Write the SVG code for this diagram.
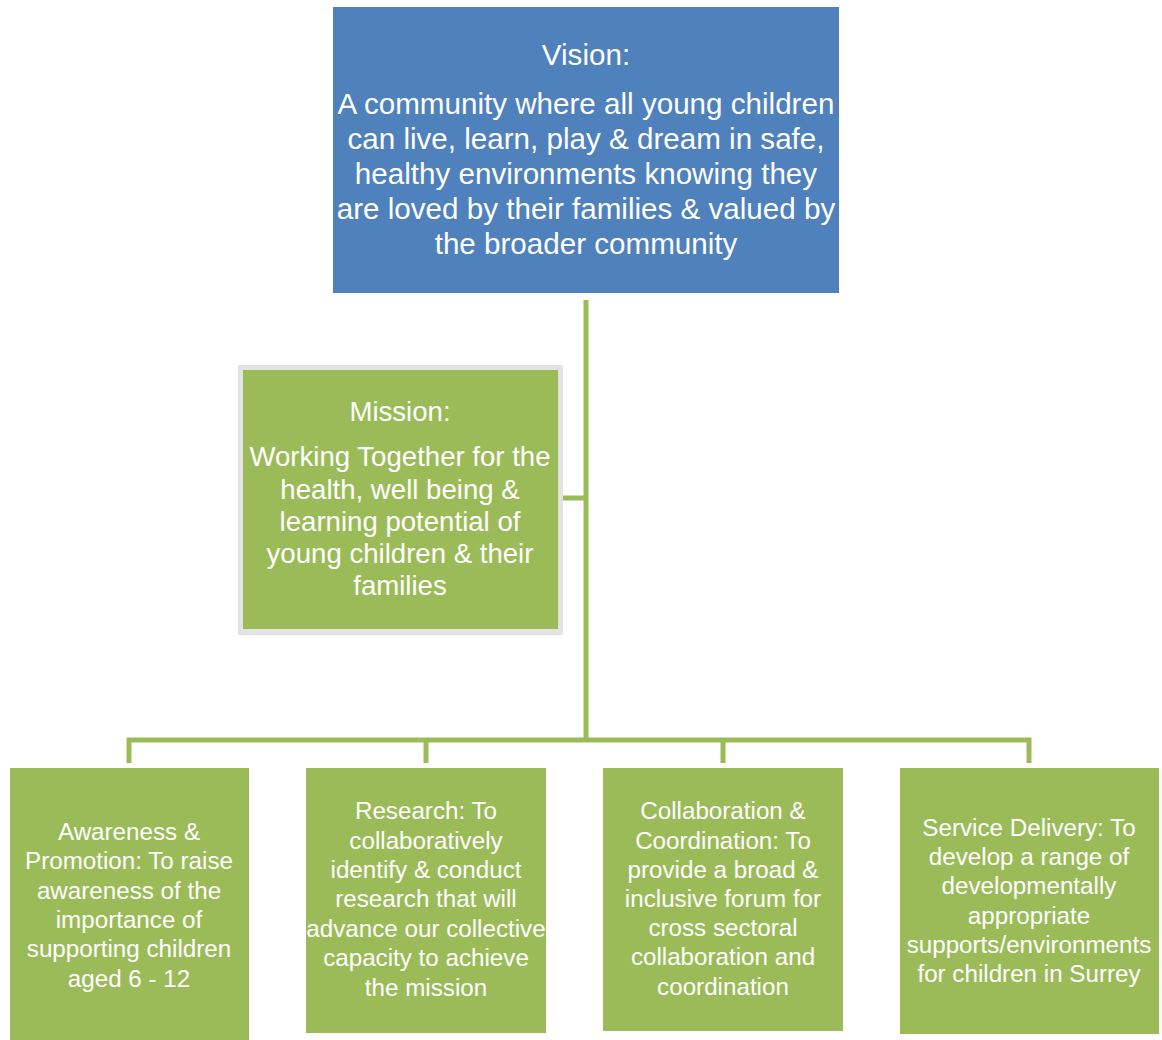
<svg xmlns="http://www.w3.org/2000/svg" width="1162" height="1040" viewBox="0 0 1162 1040">
<style>
  text { font-family: "Liberation Sans", Arial, sans-serif; fill: #ffffff; text-anchor: middle; }
  .vis { font-size: 29.6px; }
  .mis { font-size: 27.6px; }
  .bot { font-size: 24.2px; }
  .green { fill: #9BBB59; }
  .conn { stroke: #9BBB59; stroke-width: 5; fill: none; }
</style>
<rect width="1162" height="1040" fill="#ffffff"/>
<g id="connectors">
  <path class="conn" d="M586 300 V740"/>
  <path class="conn" d="M563 498 H586"/>
  <path class="conn" d="M129 763 V740 H1029 V763"/>
  <path class="conn" d="M426 740 V763"/>
  <path class="conn" d="M723 740 V763"/>
</g>
<g id="vision">
  <rect x="333" y="7" width="506" height="286" fill="#4F81BD"/>
  <text class="vis" x="586" y="65">Vision:</text>
  <text class="vis" x="586" y="114">A community where all young children</text>
  <text class="vis" x="586" y="149">can live, learn, play &amp; dream in safe,</text>
  <text class="vis" x="586" y="184">healthy environments knowing they</text>
  <text class="vis" x="586" y="219">are loved by their families &amp; valued by</text>
  <text class="vis" x="586" y="254">the broader community</text>
</g>
<g id="mission">
  <rect x="238" y="365" width="325" height="270" fill="#E3E3E3"/>
  <rect x="243" y="370" width="315" height="259" class="green"/>
  <text class="mis" x="400" y="421">Mission:</text>
  <text class="mis" x="400" y="466">Working Together for the</text>
  <text class="mis" x="400" y="499">health, well being &amp;</text>
  <text class="mis" x="400" y="531">learning potential of</text>
  <text class="mis" x="400" y="563">young children &amp; their</text>
  <text class="mis" x="400" y="595">families</text>
</g>
<g id="awareness">
  <rect x="10" y="768" width="239" height="280" class="green"/>
  <text class="bot" x="129" y="840">Awareness &amp;</text>
  <text class="bot" x="129" y="869">Promotion: To raise</text>
  <text class="bot" x="129" y="899">awareness of the</text>
  <text class="bot" x="129" y="928">importance of</text>
  <text class="bot" x="129" y="957">supporting children</text>
  <text class="bot" x="129" y="987">aged 6 - 12</text>
</g>
<g id="research">
  <rect x="306" y="768" width="240" height="265" class="green"/>
  <text class="bot" x="426" y="819">Research: To</text>
  <text class="bot" x="426" y="849">collaboratively</text>
  <text class="bot" x="426" y="878">identify &amp; conduct</text>
  <text class="bot" x="426" y="907">research that will</text>
  <text class="bot" x="426" y="937">advance our collective</text>
  <text class="bot" x="426" y="966">capacity to achieve</text>
  <text class="bot" x="426" y="996">the mission</text>
</g>
<g id="collaboration">
  <rect x="603" y="768" width="240" height="263" class="green"/>
  <text class="bot" x="723" y="819">Collaboration &amp;</text>
  <text class="bot" x="723" y="849">Coordination: To</text>
  <text class="bot" x="723" y="878">provide a broad &amp;</text>
  <text class="bot" x="723" y="907">inclusive forum for</text>
  <text class="bot" x="723" y="936">cross sectoral</text>
  <text class="bot" x="723" y="965">collaboration and</text>
  <text class="bot" x="723" y="995">coordination</text>
</g>
<g id="service">
  <rect x="900" y="768" width="259" height="266" class="green"/>
  <text class="bot" x="1029" y="836">Service Delivery: To</text>
  <text class="bot" x="1029" y="865">develop a range of</text>
  <text class="bot" x="1029" y="894">developmentally</text>
  <text class="bot" x="1029" y="924">appropriate</text>
  <text class="bot" x="1029" y="953">supports/environments</text>
  <text class="bot" x="1029" y="982">for children in Surrey</text>
</g>
</svg>
